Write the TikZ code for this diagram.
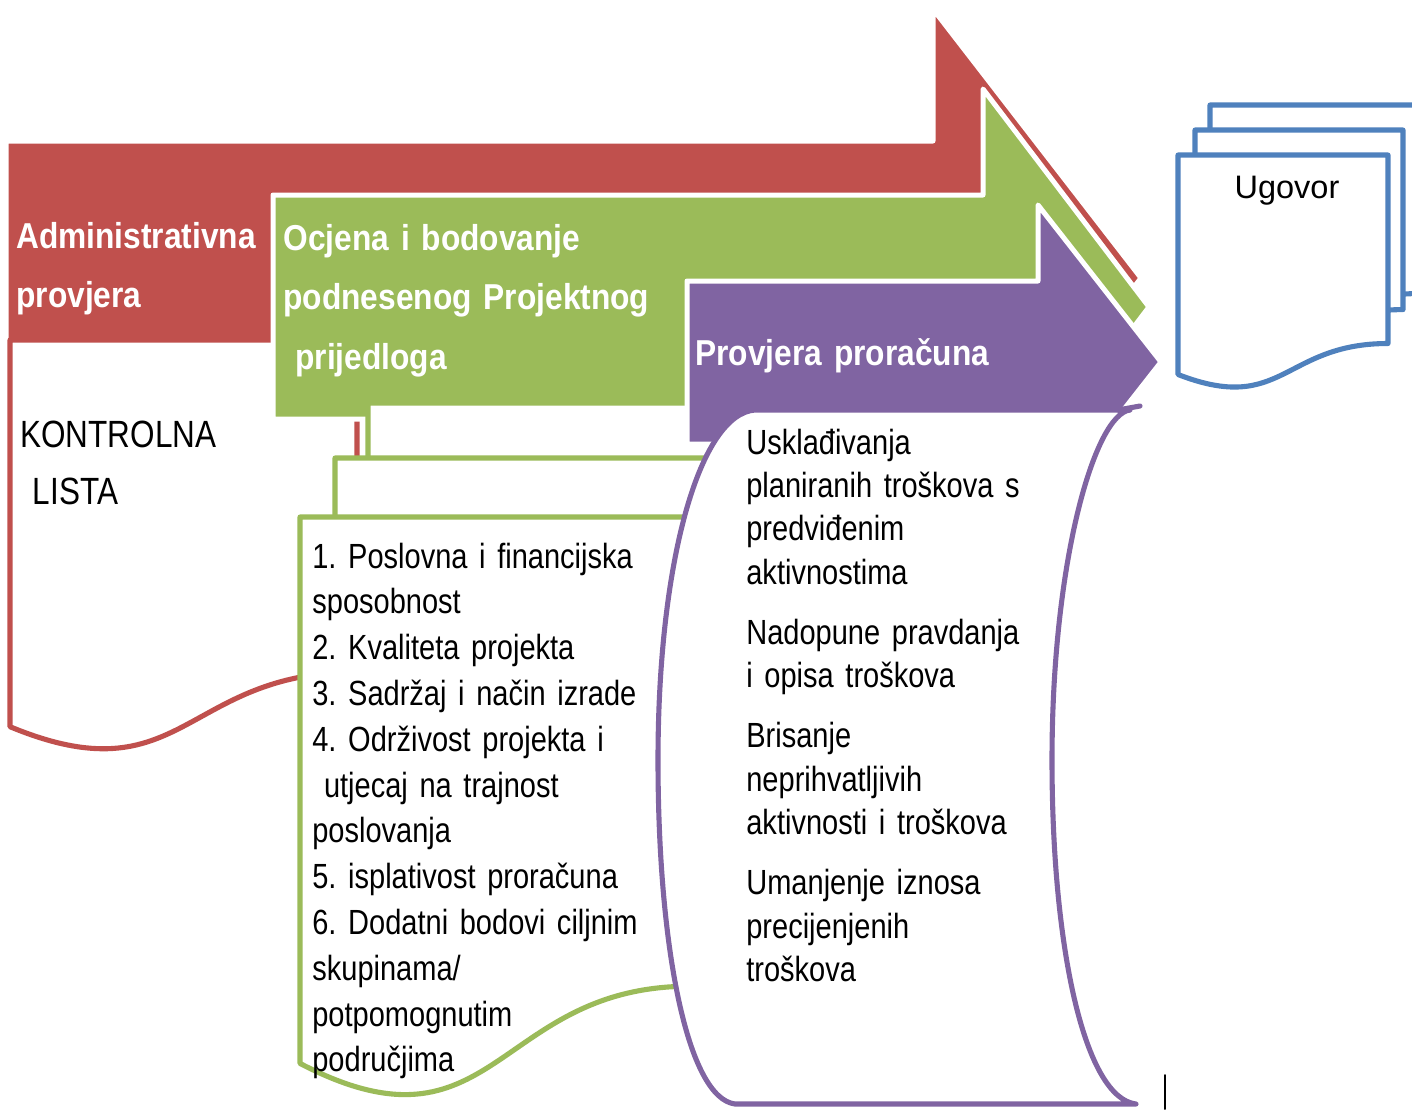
\documentclass[tikz,border=0pt]{standalone}
\usepackage{fontspec}
\setmainfont{Liberation Sans}
\newfontfamily\narrowfont[FakeStretch=0.83]{Liberation Sans}
\newfontfamily\headfont[FakeStretch=0.88]{Liberation Sans}
\usetikzlibrary{positioning}
\definecolor{redacc}{HTML}{C0504D}
\definecolor{greenacc}{HTML}{9BBB59}
\definecolor{purpleacc}{HTML}{8064A2}
\definecolor{blueacc}{HTML}{4F81BD}
\frenchspacing

\begin{document}
\begin{tikzpicture}[line cap=round,line join=round,x=0.02cm,y=-0.02cm,
    band/.style={draw=white,line width=2.85pt},
    page/.style={fill=white,line width=2.9pt},
    headtext/.style={text=white,anchor=base west,inner sep=0pt,align=left,text width=12cm,
        font={\headfont\bfseries\fontsize{20.5}{34.1}\selectfont}},
    bodytext/.style={anchor=base west,inner sep=0pt,align=left,text width=10cm,
        font={\narrowfont\fontsize{19.9}{26.07}\selectfont}}]
    \useasboundingbox (0,0) rectangle (1412,1109);
    \clip (0,0) rectangle (1412,1109);
    % arrows and their documents
    \draw [band,fill=redacc] (6,141) -- (933,141) -- (933,9) -- (1141,278) -- (933,547) -- (933,415) -- (6,415) -- cycle;
    \draw [page,draw=redacc] (10,340) -- (357,340) -- (357,672) .. controls (183.5,672) and (183.5,798.5) .. (10,726.7) -- cycle;
    \draw [band,fill=greenacc] (273,195) -- (983,195) -- (983,89) -- (1149,307) -- (983,525) -- (983,419) -- (273,419) -- cycle;
    \draw [page,draw=greenacc] (368,403) -- (758,403) -- (758,872.2) .. controls (563,872.2) and (563,1050.9) .. (368,949.4) -- cycle;
    \draw [page,draw=greenacc] (335,458) -- (725,458) -- (725,927.2) .. controls (530,927.2) and (530,1105.9) .. (335,1004.4) -- cycle;
    \draw [page,draw=greenacc] (300,517) -- (690,517) -- (690,986.2) .. controls (495,986.2) and (495,1164.9) .. (300,1063.4) -- cycle;
    \draw [band,fill=purpleacc] (687,281) -- (1038,281) -- (1038,205) -- (1161,362) -- (1038,519) -- (1038,444) -- (687,444) -- cycle;
    \draw [page,draw=purpleacc] (755,410) -- (1130,410) .. controls (1095,414) and (1052,560) .. (1052,760)
        .. controls (1052,950) and (1085,1098) .. (1136,1104) -- (735,1104)
        .. controls (688,1098) and (658,950) .. (658,760) .. controls (658,560) and (700,414) .. (755,410) -- cycle;
    \draw [line width=2.9pt,purpleacc] (1118,410) -- (1140,406);
    \draw [page,draw=blueacc] (1210,105) -- (1420,105) -- (1420,293.5) .. controls (1315,293.5) and (1315,365.3) .. (1210,324.5) -- cycle;
    \draw [page,draw=blueacc] (1195,130) -- (1403,130) -- (1403,309.6) .. controls (1299,309.6) and (1299,378.1) .. (1195,339.2) -- cycle;
    \draw [page,draw=blueacc] (1178,155) -- (1388,155) -- (1388,343.5) .. controls (1283,343.5) and (1283,415.3) .. (1178,374.5) -- cycle;
    \draw [line width=1.1pt] (1165,1075) -- (1165,1109);
    % texts
    \node [headtext] (adminhead) at (16,248) {Administrativna\\provjera};
    \node [headtext] (ocjenahead) at (283,250) {Ocjena i bodovanje\\podnesenog Projektnog\\~prijedloga};
    \node [headtext] (proracunhead) at (695,365) {Provjera proračuna};
    \node [bodytext,font={\narrowfont\fontsize{21.6}{33}\selectfont}] (kontrolna) at (20,447) {KONTROLNA\\~LISTA};
    \node [bodytext] (kriteriji) at (312,568) {1. Poslovna i financijska\\sposobnost\\2. Kvaliteta projekta\\3. Sadržaj i način izrade\\4. Održivost projekta i\\~utjecaj na trajnost\\poslovanja\\5. isplativost proračuna\\6. Dodatni bodovi ciljnim\\skupinama/\\potpomognutim\\područjima};
    \node [bodytext,font={\narrowfont\fontsize{19.9}{24.75}\selectfont}] (provjere) at (746,454) {Usklađivanja\\planiranih troškova s\\predviđenim\\aktivnostima\\[9.4pt]Nadopune pravdanja\\i opisa troškova\\[9.4pt]Brisanje\\neprihvatljivih\\aktivnosti i troškova\\[9.4pt]Umanjenje iznosa\\precijenjenih\\troškova};
    \node [anchor=base,inner sep=0pt,font={\fontsize{18.5}{22}\selectfont}] (ugovor) at (1287,198) {Ugovor};
\end{tikzpicture}
\end{document}
